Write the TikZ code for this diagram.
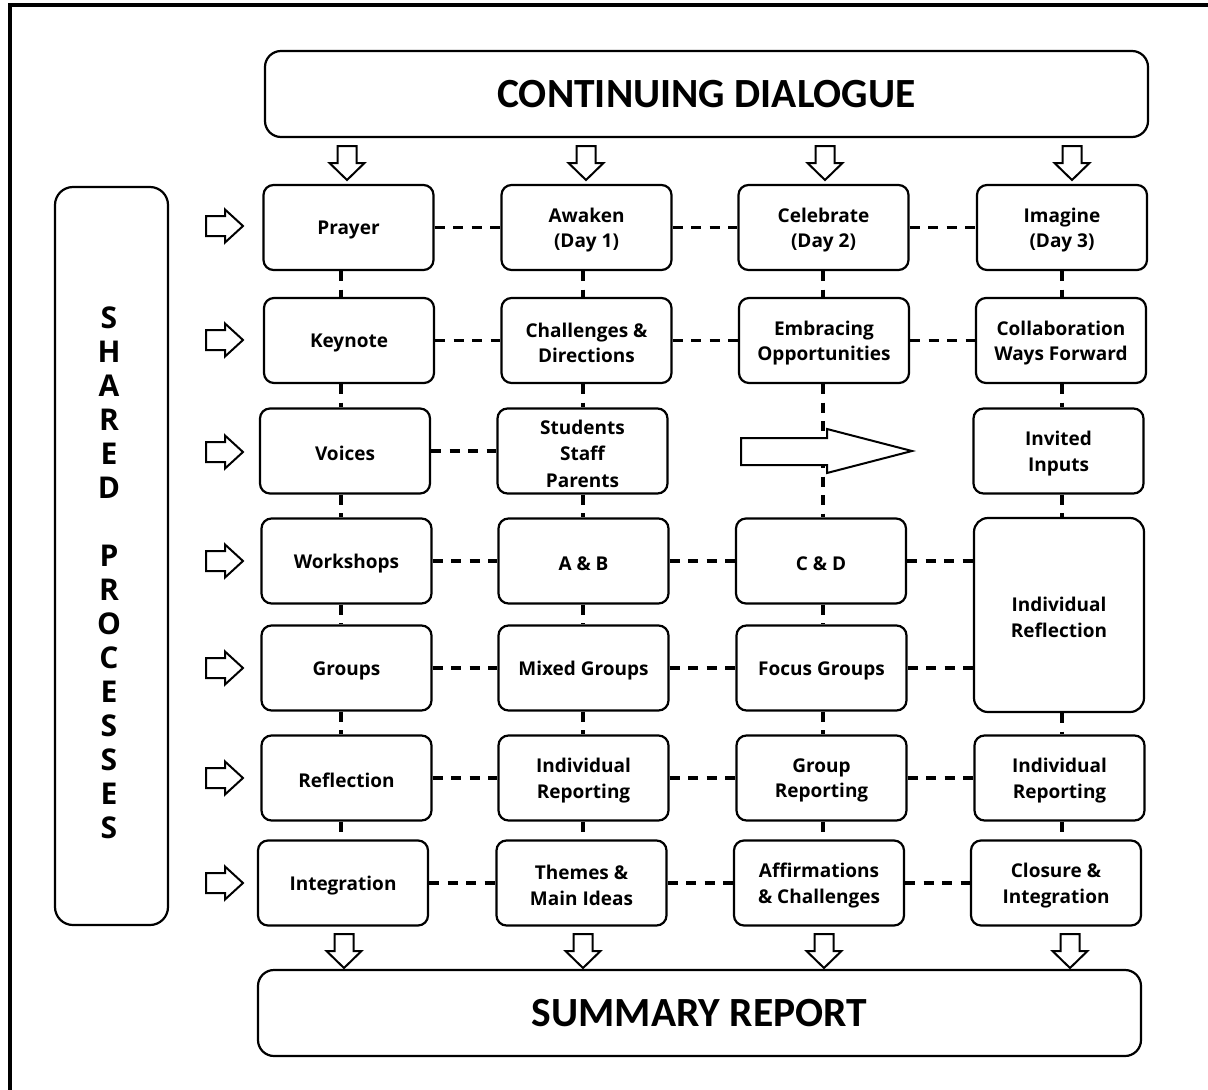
\documentclass[tikz,border=0pt]{standalone}
\usepackage{fontspec}
\newfontfamily\boxfont{Open Sans}
\newfontfamily\titlefont{Carlito}
\begin{document}
\begin{tikzpicture}[x=1pt,y=-1pt,
  txt/.style={align=center, inner sep=0pt, yshift=-2.5pt, font=\boxfont\bfseries\fontsize{19}{25.5}\selectfont},
  box/.style={draw, line width=2.2pt, rounded corners=10pt, minimum width=170pt, minimum height=85pt,
    inner sep=0pt, fill=white, label={[txt]center:#1}},
  bigbox/.style={draw, line width=2.2pt, rounded corners=16pt, minimum width=883pt, minimum height=86pt,
    inner sep=0pt, fill=white, font=\titlefont\bfseries\fontsize{41.5}{45}\selectfont},
  conn/.style={line width=3.5pt, dash pattern=on 10pt off 8.5pt},
  blk/.style={draw, line width=2pt, fill=white, line join=miter},
  darr/.pic={\draw[blk] (-9.5,0) -- (9.5,0) -- (9.5,17) -- (17.5,17) -- (0,34) -- (-17.5,17) -- (-9.5,17) -- cycle;},
  rarr/.pic={\draw[blk] (0,-10) -- (19,-10) -- (19,-16.5) -- (37,0) -- (19,16.5) -- (19,10) -- (0,10) -- cycle;}
]
\useasboundingbox (0,0) rectangle (1208,1090);
\fill[white] (0,0) rectangle (1208,1090);
% frame
\draw[line width=4pt] (10,1095) -- (10,5) -- (1212,5);

% column lines for vertical connectors
\coordinate (c1) at (341,0);
\coordinate (c2) at (583,0);
\coordinate (c3) at (823,0);
\coordinate (c4) at (1062,0);

% big boxes
\node[bigbox] (dialogue) at (706.5,94) {CONTINUING DIALOGUE};
\node[bigbox] (summary) at (699.5,1013) {SUMMARY REPORT};
\node[draw, line width=2.2pt, rounded corners=18pt, minimum width=113pt, minimum height=738pt, inner sep=0pt] (shared) at (111.5,556) {};
\node[align=center, inner sep=0pt, font=\boxfont\bfseries\fontsize{30}{34}\selectfont] (sharedtext) at (109,573)
  {S\\H\\A\\R\\E\\D\\[34pt]P\\R\\O\\C\\E\\S\\S\\E\\S};

% row 1
\node[box=Prayer] (prayer) at (348.5,227.5) {};
\node[box={Awaken\\(Day 1)}] (awaken) at (586.5,227.5) {};
\node[box={Celebrate\\(Day 2)}] (celebrate) at (823.5,227.5) {};
\node[box={Imagine\\(Day 3)}] (imagine) at (1062,227.5) {};
% row 2
\node[box=Keynote] (keynote) at (349,340.5) {};
\node[box={Challenges \&\\Directions}] (challenges) at (586.5,340.5) {};
\node[box={Embracing\\Opportunities}] (embracing) at (824,340.5) {};
\node[box={Collaboration\\Ways Forward}] (collab) at (1061,340.5) {};
% row 3
\node[box=Voices] (voices) at (345,451) {};
\node[draw, line width=2.2pt, rounded corners=10pt, minimum width=170pt, minimum height=85pt, inner sep=0pt, fill=white,
  label={[txt, font=\boxfont\bfseries\fontsize{19}{26.5}\selectfont]center:{Students\\Staff\\Parents}}] (students) at (582.5,451) {};
\node[box={Invited\\Inputs}] (invited) at (1058.5,451) {};
% row 4
\node[box=Workshops] (workshops) at (346.5,561) {};
\node[box={A \& B}] (ab) at (583.5,561) {};
\node[box={C \& D}] (cd) at (821,561) {};
\node[box={Individual\\Reflection}, minimum height=194pt, rounded corners=14pt] (indrefl) at (1059,615) {};
% row 5
\node[box=Groups] (groups) at (346.5,668) {};
\node[box={Mixed Groups}] (mixed) at (583.5,668) {};
\node[box={Focus Groups}] (focus) at (821.5,668) {};
% row 6
\node[box=Reflection] (reflection) at (346.5,778) {};
\node[box={Individual\\Reporting}] (indrep) at (583.5,778) {};
\node[box={Group\\Reporting}] (grouprep) at (821.5,778) {};
\node[box={Individual\\Reporting}] (indrepb) at (1059.5,778) {};
% row 7
\node[box=Integration] (integration) at (343,883) {};
\node[box={Themes \&\\Main Ideas}] (themes) at (581.5,883) {};
\node[box={Affirmations\\\& Challenges}] (affirm) at (819,883) {};
\node[box={Closure \&\\Integration}] (closure) at (1056,883) {};

% vertical connectors
\foreach \a/\b/\c in {prayer/keynote/c1, keynote/voices/c1, voices/workshops/c1, workshops/groups/c1,
  groups/reflection/c1, reflection/integration/c1,
  awaken/challenges/c2, challenges/students/c2, students/ab/c2, ab/mixed/c2, mixed/indrep/c2, indrep/themes/c2,
  celebrate/embracing/c3, embracing/cd/c3, cd/focus/c3, focus/grouprep/c3, grouprep/affirm/c3,
  imagine/collab/c4, collab/invited/c4, invited/indrefl/c4, indrefl/indrepb/c4, indrepb/closure/c4}
  \draw[conn] (\a.south -| \c) -- (\b.north -| \c);

% horizontal connectors
\foreach \a/\b in {prayer/awaken, awaken/celebrate, celebrate/imagine,
  keynote/challenges, challenges/embracing, embracing/collab,
  voices/students,
  workshops/ab, ab/cd, cd/indrefl,
  groups/mixed, mixed/focus, focus/indrefl,
  reflection/indrep, indrep/grouprep, grouprep/indrepb,
  integration/themes, themes/affirm, affirm/closure}
  \draw[conn] (\a.east) -- (\a.east -| \b.west);

% big right arrow in row 3
\draw[blk] (741,438) -- (827,438) -- (827,429) -- (912,451) -- (827,473) -- (827,465) -- (741,465) -- cycle;

% arrows from Continuing Dialogue
\foreach \x in {347,586,825,1072} \pic at (\x,146) {darr};
% arrows to Summary Report
\foreach \x in {344,583,824,1070} \pic at (\x,934) {darr};
% arrows from Shared Processes
\foreach \y in {226,340,452,561,668,778,883} \pic at (206,\y) {rarr};
\end{tikzpicture}
\end{document}
